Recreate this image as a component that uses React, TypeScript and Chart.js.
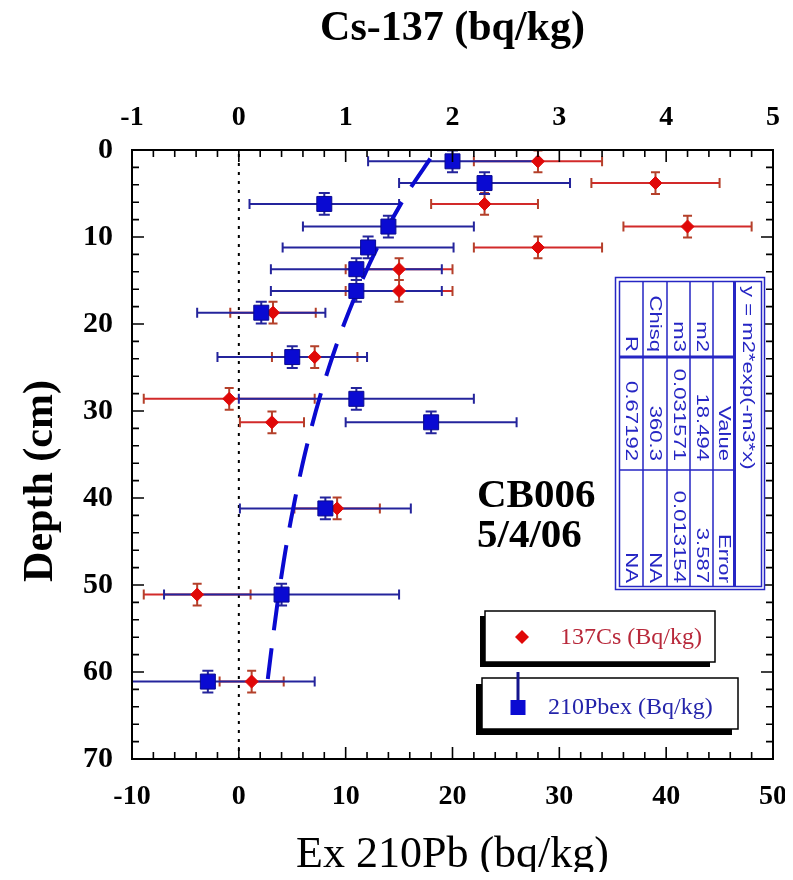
import React, { useEffect, useRef } from "react";
import { Chart, registerables } from "chart.js";
Chart.register(...registerables);

// ---------- data ----------
const sampleDepthCm = [1.3, 3.8, 6.2, 8.8, 11.2, 13.7, 16.2, 18.7, 23.8, 28.6, 31.3, 41.2, 51.1, 61.1];
const depthHalfCm = [1.25, 1.25, 1.25, 1.25, 1.25, 1.25, 1.25, 1.25, 1.25, 1.25, 1.25, 1.25, 1.25, 1.25];
const pb210ex = [20.0, 23.0, 8.0, 14.0, 12.1, 11.0, 11.0, 2.1, 5.0, 11.0, 18.0, 8.1, 4.0, -2.9];
const pb210exErr = [7.9, 8.0, 7.0, 8.0, 8.0, 8.0, 8.0, 6.0, 7.0, 11.0, 8.0, 8.0, 11.0, 10.0];
const cs137 = [2.8, 3.9, 2.3, 4.2, 2.8, 1.5, 1.5, 0.32, 0.71, -0.09, 0.31, 0.92, -0.39, 0.12];
const cs137Err = [0.6, 0.6, 0.5, 0.6, 0.6, 0.5, 0.5, 0.4, 0.4, 0.8, 0.3, 0.4, 0.5, 0.3];

// fitted curve y = m2*exp(-m3*x) as drawn (Pb vs depth)
const fitDepthCm = [1.0, 5, 10, 15, 20, 25, 30, 35, 40, 45, 50, 55, 60.8];
const fitPb = [17.92, 15.74, 13.46, 11.52, 9.85, 8.43, 7.21, 6.17, 5.28, 4.51, 3.86, 3.3, 2.71];

// tick labels
const pbTicks = [-10, 0, 10, 20, 30, 40, 50];
const csTicks = [-1, 0, 1, 2, 3, 4, 5];
const depthTicks = [0, 10, 20, 30, 40, 50, 60, 70];

// fit table
const fitEquation = "y = m2*exp(-m3*x)";
const fitParamNames = ["m2", "m3", "Chisq", "R"];
const fitParamValues = ["18.494", "0.031571", "360.3", "0.67192"];
const fitParamErrors = ["3.587", "0.013154", "NA", "NA"];

const legendCs = "137Cs (Bq/kg)";
const legendPb = "210Pbex (Bq/kg)";
const noteLines = ["CB006", "5/4/06"];
const titleTop = "Cs-137 (bq/kg)";
const titleBottom = "Ex 210Pb (bq/kg)";
const titleLeft = "Depth (cm)";

// ---------- styles ----------
const SERIF = '"Liberation Serif", "Times New Roman", serif';
const SANS = '"Liberation Sans", Arial, sans-serif';
const OFF = 8; // page -> canvas offset
const W = 777;
const H = 864;

const BLUE_ERR = "#24249c";
const BLUE_FILL = "#0a0ad2";
const RED_ERR = "#d22a2a";
const RED_CAP = "#b4402a";
const RED_FILL = "#e00808";
const TABLE = "#2626c4";

function App() {
  const ref = useRef<HTMLCanvasElement | null>(null);

  useEffect(() => {
    const canvas = ref.current;
    if (!canvas) return;

    const overlay = {
      id: "overlay",
      beforeDatasetsDraw(chart: any) {
        const { ctx, chartArea: a, scales } = chart;
        const x = scales.x, x2 = scales.x2, y = scales.y;
        ctx.save();
        ctx.beginPath();
        ctx.rect(a.left, a.top, a.right - a.left, a.bottom - a.top);
        ctx.clip();
        // zero dotted line
        ctx.strokeStyle = "#000";
        ctx.lineWidth = 2;
        ctx.setLineDash([3, 6]);
        const zx = x.getPixelForValue(0);
        ctx.beginPath();
        ctx.moveTo(zx, a.top + 4);
        ctx.lineTo(zx, a.bottom);
        ctx.stroke();
        ctx.setLineDash([]);

        const hbar = (sc: any, v: number, e: number, d: number, col: string, capCol: string) => {
          const py = y.getPixelForValue(d);
          const l = sc.getPixelForValue(v - e);
          const r = sc.getPixelForValue(v + e);
          ctx.strokeStyle = col;
          ctx.lineWidth = 2;
          ctx.beginPath();
          ctx.moveTo(l, py);
          ctx.lineTo(r, py);
          ctx.stroke();
          ctx.strokeStyle = capCol;
          ctx.beginPath();
          ctx.moveTo(l, py - 5);
          ctx.lineTo(l, py + 5);
          ctx.moveTo(r, py - 5);
          ctx.lineTo(r, py + 5);
          ctx.stroke();
        };
        const vbar = (sc: any, v: number, d: number, h: number, col: string, cw: number) => {
          const px = sc.getPixelForValue(v);
          const t = y.getPixelForValue(d - h);
          const b = y.getPixelForValue(d + h);
          ctx.strokeStyle = col;
          ctx.lineWidth = 2;
          ctx.beginPath();
          ctx.moveTo(px, t);
          ctx.lineTo(px, b);
          ctx.moveTo(px - cw, t);
          ctx.lineTo(px + cw, t);
          ctx.moveTo(px - cw, b);
          ctx.lineTo(px + cw, b);
          ctx.stroke();
        };
        for (let i = 0; i < cs137.length; i++) {
          hbar(x2, cs137[i], cs137Err[i], sampleDepthCm[i], RED_ERR, RED_CAP);
        }
        for (let i = 0; i < pb210ex.length; i++) {
          hbar(x, pb210ex[i], pb210exErr[i], sampleDepthCm[i], BLUE_ERR, BLUE_ERR);
        }
        for (let i = 0; i < cs137.length; i++) {
          vbar(x2, cs137[i], sampleDepthCm[i], depthHalfCm[i], RED_CAP, 4.5);
        }
        for (let i = 0; i < pb210ex.length; i++) {
          vbar(x, pb210ex[i], sampleDepthCm[i], depthHalfCm[i], BLUE_ERR, 5.5);
        }
        ctx.restore();
      },
      afterDraw(chart: any) {
        const { ctx, chartArea: a, scales } = chart;
        const x = scales.x, y = scales.y;
        const P = (v: number) => v - OFF;
        ctx.save();
        // frame
        ctx.strokeStyle = "#000";
        ctx.lineWidth = 2;
        ctx.strokeRect(a.left, a.top, a.right - a.left, a.bottom - a.top);
        // inward ticks
        ctx.lineWidth = 1.6;
        ctx.beginPath();
        for (let v = -10; v <= 50; v += 2) {
          const px = x.getPixelForValue(v);
          const len = v % 10 === 0 ? 12 : 7;
          ctx.moveTo(px, a.bottom);
          ctx.lineTo(px, a.bottom - len);
          ctx.moveTo(px, a.top);
          ctx.lineTo(px, a.top + len);
        }
        for (let v = 0; v <= 70; v += 2) {
          const py = y.getPixelForValue(v);
          const len = v % 10 === 0 ? 12 : 7;
          ctx.moveTo(a.left, py);
          ctx.lineTo(a.left + len, py);
          ctx.moveTo(a.right, py);
          ctx.lineTo(a.right - len, py);
        }
        ctx.stroke();

        // left axis title
        ctx.save();
        ctx.fillStyle = "#000";
        ctx.font = `bold 42px ${SERIF}`;
        ctx.textAlign = "center";
        ctx.textBaseline = "middle";
        ctx.translate(P(41), P(481));
        ctx.rotate(-Math.PI / 2);
        ctx.fillText(titleLeft, 0, 0);
        ctx.restore();

        // note text
        ctx.fillStyle = "#000";
        ctx.font = `bold 41px ${SERIF}`;
        ctx.textAlign = "left";
        ctx.textBaseline = "alphabetic";
        ctx.fillText(noteLines[0], P(477), P(507));
        ctx.fillText(noteLines[1], P(477), P(547));

        // fit table
        ctx.fillStyle = "#fff";
        ctx.fillRect(P(615), P(277), 150, 313);
        ctx.strokeStyle = TABLE;
        ctx.lineWidth = 1.5;
        ctx.strokeRect(P(615.5), P(277.5), 149, 312);
        ctx.strokeRect(P(619.5), P(281.5), 142, 305);
        ctx.beginPath();
        [643, 667, 690, 713].forEach((vx) => {
          ctx.moveTo(P(vx), P(281.5));
          ctx.lineTo(P(vx), P(586.5));
        });
        ctx.moveTo(P(619.5), P(470));
        ctx.lineTo(P(734), P(470));
        ctx.stroke();
        ctx.lineWidth = 3;
        ctx.beginPath();
        ctx.moveTo(P(734.5), P(281.5));
        ctx.lineTo(P(734.5), P(586.5));
        ctx.moveTo(P(619.5), P(357));
        ctx.lineTo(P(734), P(357));
        ctx.stroke();

        ctx.fillStyle = TABLE;
        ctx.font = `17px ${SANS}`;
        ctx.textBaseline = "middle";
        const rot = (t: string, cx: number, yy: number, align: CanvasTextAlign) => {
          ctx.save();
          ctx.translate(P(cx), P(yy));
          ctx.rotate(Math.PI / 2);
          ctx.scale(1.3, 1);
          ctx.textAlign = align;
          ctx.fillText(t, 0, 0);
          ctx.restore();
        };
        rot(fitEquation, 748, 286, "left");
        rot("Value", 723.5, 461, "right");
        rot("Error", 723.5, 583, "right");
        const stripX = [701.5, 678.5, 655, 631];
        for (let i = 0; i < fitParamNames.length; i++) {
          rot(fitParamNames[i], stripX[i], 352, "right");
          rot(fitParamValues[i], stripX[i], 461, "right");
          rot(fitParamErrors[i], stripX[i], 583, "right");
        }

        // legend boxes
        const box = (bx: number, by: number, bw: number, bh: number, sh: number) => {
          ctx.fillStyle = "#000";
          ctx.fillRect(P(bx - sh), P(by + sh), bw, bh);
          ctx.fillStyle = "#fff";
          ctx.fillRect(P(bx), P(by), bw, bh);
          ctx.strokeStyle = "#000";
          ctx.lineWidth = 1.5;
          ctx.strokeRect(P(bx), P(by), bw, bh);
        };
        box(485, 611, 230, 51, 5);
        box(482, 678, 256, 51, 6);
        // diamond
        ctx.fillStyle = RED_FILL;
        ctx.beginPath();
        ctx.moveTo(P(522 - 7), P(637));
        ctx.lineTo(P(522), P(637 - 7));
        ctx.lineTo(P(522 + 7), P(637));
        ctx.lineTo(P(522), P(637 + 7));
        ctx.closePath();
        ctx.fill();
        ctx.font = `24px ${SERIF}`;
        ctx.textAlign = "left";
        ctx.textBaseline = "middle";
        ctx.fillStyle = "#b8283a";
        ctx.fillText(legendCs, P(560), P(638));
        // square with line
        ctx.strokeStyle = "#14148c";
        ctx.lineWidth = 3;
        ctx.beginPath();
        ctx.moveTo(P(518), P(672));
        ctx.lineTo(P(518), P(702));
        ctx.stroke();
        ctx.fillStyle = BLUE_FILL;
        ctx.fillRect(P(510.5), P(700), 15, 15);
        ctx.fillStyle = "#2424aa";
        ctx.fillText(legendPb, P(548), P(708));
        ctx.restore();
      },
    };

    const tickFont = { family: SERIF, size: 28, weight: "bold" as const };
    const zeroPad = (s: any) => {
      s.paddingLeft = 0;
      s.paddingRight = 0;
      s.paddingTop = 0;
      s.paddingBottom = 0;
    };

    const chart = new Chart(canvas, {
      type: "scatter",
      data: {
        datasets: [
          {
            label: legendPb,
            data: sampleDepthCm.map((d, i) => ({ x: pb210ex[i], y: d })),
            xAxisID: "x",
            yAxisID: "y",
            pointStyle: "rect",
            pointRadius: 10.6,
            backgroundColor: BLUE_FILL,
            borderColor: "#0a0a90",
            borderWidth: 1,
            order: 0,
          },
          {
            label: legendCs,
            data: sampleDepthCm.map((d, i) => ({ x: cs137[i], y: d })),
            xAxisID: "x2",
            yAxisID: "y",
            pointStyle: "rectRot",
            pointRadius: 6.5,
            backgroundColor: RED_FILL,
            borderColor: RED_FILL,
            borderWidth: 1,
            order: 1,
          },
          {
            label: "fit",
            data: fitDepthCm.map((d, i) => ({ x: fitPb[i], y: d })),
            xAxisID: "x",
            yAxisID: "y",
            showLine: true,
            pointRadius: 0,
            borderColor: "#0a0ad0",
            borderWidth: 4,
            borderDash: [34, 18],
            tension: 0.3,
            order: 2,
          } as any,
        ],
      },
      options: {
        responsive: false,
        animation: false,
        layout: { padding: { left: 0, top: 0, right: 12, bottom: 0 } },
        plugins: { legend: { display: false }, tooltip: { enabled: false } },
        scales: {
          x: {
            type: "linear",
            position: "bottom",
            min: -10,
            max: 50,
            afterBuildTicks: (s: any) => {
              s.ticks = pbTicks.map((v) => ({ value: v }));
            },
            ticks: { font: tickFont, color: "#000", padding: 21, maxRotation: 0 },
            grid: { display: false, drawTicks: false },
            border: { display: false },
            title: {
              display: true,
              text: titleBottom,
              color: "#000",
              font: { family: SERIF, size: 44, lineHeight: 0.77 },
              padding: { top: 0, bottom: 0 },
            },
            afterFit: (s: any) => {
              s.height = H - 751;
              zeroPad(s);
            },
          },
          x2: {
            type: "linear",
            position: "top",
            min: -1,
            max: 5,
            afterBuildTicks: (s: any) => {
              s.ticks = csTicks.map((v) => ({ value: v }));
            },
            ticks: { font: tickFont, color: "#000", padding: 15, maxRotation: 0 },
            grid: { display: false, drawTicks: false },
            border: { display: false },
            title: {
              display: true,
              text: titleTop,
              color: "#000",
              font: { family: SERIF, size: 42, weight: "bold", lineHeight: 1.0 },
              padding: { top: 0, bottom: 0 },
            },
            afterFit: (s: any) => {
              s.height = 142;
              zeroPad(s);
            },
          },
          y: {
            type: "linear",
            position: "left",
            reverse: true,
            min: 0,
            max: 70,
            afterBuildTicks: (s: any) => {
              s.ticks = depthTicks.map((v) => ({ value: v }));
            },
            ticks: { font: { family: SERIF, size: 30, weight: "bold" }, color: "#000", padding: 19 },
            grid: { display: false, drawTicks: false },
            border: { display: false },
            title: { display: false },
            afterFit: (s: any) => {
              s.width = 124;
              zeroPad(s);
            },
          },
        },
      },
      plugins: [overlay],
    });
    return () => chart.destroy();
  }, []);

  return <canvas ref={ref} width={W} height={H} style={{ display: "block", width: W, height: H }} />;
}

export default App;
